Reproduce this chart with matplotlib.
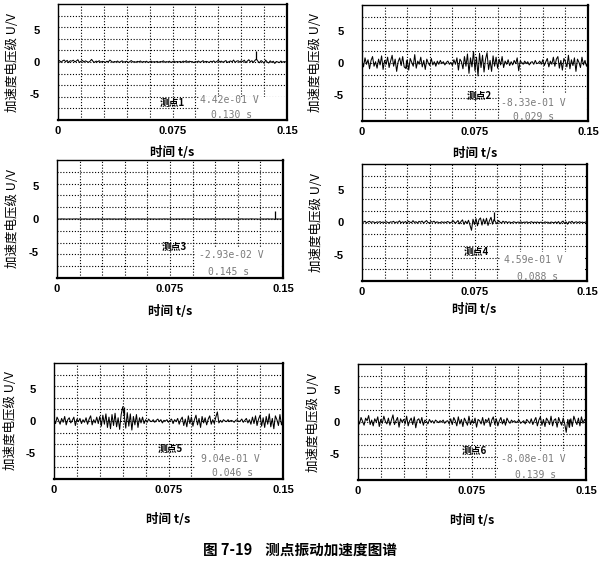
import numpy as np
import matplotlib
matplotlib.use("Agg")
import matplotlib.pyplot as plt
from matplotlib.patches import Rectangle

plt.rcParams['font.family'] = ['Noto Sans CJK SC', 'DejaVu Sans']

# sampling: 0 .. 0.150 s at 1 ms
time_s = np.arange(151) / 1000.0

point1 = [0.10, 0.22, -0.05, 0.18, 0.30, 0.05, 0.25, -0.10, 0.20, 0.12,
          0.28, 0.02, 0.15, 0.35, -0.08, 0.10, 0.24, 0.00, 0.18, 0.06,
          -0.05, 0.12, 0.40, 0.08, -0.06, 0.14, 0.03, 0.20, -0.04, 0.10,
          0.05, -0.08, 0.12, 0.02, 0.30, 0.10, -0.05, 0.08, 0.00, 0.15,
          -0.06, 0.06, 0.18, -0.02, 0.04, 0.12, -0.10, 0.05, 0.22, 0.00,
          0.06, -0.04, 0.10, 0.02, 0.16, -0.05, 0.08, 0.00, 0.12, -0.08,
          0.04, 0.14, -0.02, 0.06, 0.00, 0.10, -0.06, 0.08, 0.02, 0.18,
          -0.04, 0.06, 0.00, 0.12, -0.08, 0.05, 0.15, -0.02, 0.08, 0.00,
          0.10, -0.06, 0.14, 0.02, 0.20, -0.04, 0.12, 0.05, 0.06, -0.10,
          0.08, 0.00, 0.15, -0.05, 0.06, 0.20, -0.02, 0.10, 0.04, -0.08,
          0.12, 0.02, 0.18, -0.06, 0.08, 0.25, 0.00, 0.14, -0.04, 0.10,
          0.22, -0.08, 0.06, 0.16, 0.02, 0.30, -0.05, 0.12, 0.20, -0.02,
          0.18, 0.06, 0.28, -0.10, 0.14, 0.35, 0.02, 0.20, -0.06, 0.25,
          0.442, 0.10, -0.12, 0.22, 0.05, -0.20, 0.30, 0.00, -0.15, 0.18,
          -0.05, 0.12, -0.22, 0.08, 0.00, -0.10, 0.15, -0.04, 0.06, 0.02,
          0.05]

point2 = [0.3, -0.6, 0.8, -0.2, 0.5, -0.9, 0.4, 1.0, -0.5, 0.2,
          -0.8, 0.6, -0.3, 1.1, -1.0, 0.4, -0.2, 0.9, -0.7, 0.3,
          1.2, -0.5, 0.6, -1.3, 0.2, 0.8, -0.4, 1.0, -0.6, -0.833,
          0.5, -1.1, 0.7, 0.1, -0.5, 1.3, -0.8, 0.3, -0.2, 0.9,
          -0.6, 0.4, -1.0, 0.6, 0.0, -0.4, 0.7, -0.3, 0.2, -0.5,
          0.3, -0.2, 0.4, -0.1, 0.2, -0.3, 0.1, 0.3, -0.2, 0.1,
          -0.4, 0.5, -0.2, 0.8, -1.1, 0.6, 0.2, -0.9, 1.0, -0.5,
          1.4, -1.6, 0.8, -0.6, 1.8, -1.2, 0.9, -2.0, 1.5, -0.7,
          1.2, -1.4, 0.6, 1.6, -1.0, 0.4, -1.3, 1.1, -0.5, 0.9,
          -0.8, 0.6, -0.3, 1.0, -0.7, 0.3, -0.2, 0.5, -0.4, 0.2,
          -0.3, 0.4, -0.1, 0.8, -1.2, 0.3, 0.1, -0.2, 0.3, -0.1,
          0.2, -0.3, 0.1, 0.2, -0.2, 0.4, -0.1, 0.0, 0.3, -0.2,
          0.5, -0.4, 0.2, 0.7, -0.6, 0.3, -0.2, 0.9, -0.5, 0.6,
          1.0, -0.8, 0.4, -1.1, 0.7, 0.2, -0.6, 1.2, -0.9, 0.5,
          -0.4, 0.8, -1.3, 0.6, 0.1, -0.7, 0.9, -0.3, 0.4, -0.5,
          0.2]

point3 = [0.01, 0.00, -0.01, 0.02, 0.00, 0.01, -0.02, 0.00, 0.01, 0.00,
          -0.01, 0.01, 0.00, 0.02, -0.01, 0.00, 0.01, -0.01, 0.00, 0.02,
          0.00, -0.02, 0.01, 0.00, 0.01, -0.01, 0.00, 0.02, 0.00, -0.01,
          0.01, 0.00, -0.01, 0.01, 0.00, 0.02, -0.01, 0.00, 0.01, 0.00,
          -0.02, 0.01, 0.00, 0.01, -0.01, 0.00, 0.02, 0.00, -0.01, 0.01,
          0.00, 0.01, -0.01, 0.00, 0.02, -0.01, 0.00, 0.01, 0.00, -0.01,
          0.01, 0.00, 0.02, -0.01, 0.00, 0.01, -0.02, 0.00, 0.01, 0.00,
          -0.01, 0.02, 0.00, 0.01, -0.01, 0.00, 0.01, 0.00, -0.02, 0.01,
          0.00, 0.01, -0.01, 0.00, 0.02, 0.00, -0.01, 0.01, 0.00, 0.01,
          -0.01, 0.00, 0.02, 0.00, -0.01, 0.01, 0.00, -0.02, 0.01, 0.00,
          0.01, -0.01, 0.00, 0.02, 0.00, -0.01, 0.01, 0.00, 0.01, -0.01,
          0.00, 0.02, -0.01, 0.00, 0.01, 0.00, -0.02, 0.01, 0.00, 0.01,
          -0.01, 0.00, 0.01, 0.02, -0.01, 0.00, 0.01, -0.01, 0.00, 0.02,
          0.00, -0.01, 0.01, 0.00, -0.02, 0.01, 0.00, 0.01, -0.01, 0.00,
          0.02, -0.01, 0.00, 0.01, -0.02, -0.0293, 0.01, 0.00, -0.01, 0.01,
          0.00]

point4 = [0.15, 0.05, 0.20, -0.05, 0.10, 0.18, 0.00, 0.12, 0.06, -0.04,
          0.10, 0.02, 0.14, -0.02, 0.08, 0.00, 0.12, 0.04, -0.06, 0.10,
          0.05, 0.18, -0.04, 0.08, 0.02, 0.25, -0.05, 0.10, 0.00, 0.15,
          -0.08, 0.20, 0.05, -0.02, 0.28, 0.00, 0.12, -0.10, 0.18, 0.04,
          0.22, -0.06, 0.10, 0.30, 0.00, -0.08, 0.15, 0.05, 0.20, -0.04,
          0.10, 0.02, -0.06, 0.12, 0.00, 0.08, -0.02, 0.16, 0.04, -0.05,
          0.10, 0.25, -0.10, 0.05, 0.30, -0.20, 0.15, 0.40, -0.30, 0.20,
          -0.15, 0.35, -0.40, -1.20, 0.50, -0.30, 0.60, -0.50, 0.45, 0.70,
          -0.40, 0.55, -0.20, 0.65, -0.45, 0.30, 0.80, -0.25, 0.459, 0.10,
          -0.20, 0.30, 0.05, -0.10, 0.20, 0.00, 0.15, -0.05, 0.10, 0.02,
          -0.06, 0.12, 0.04, -0.02, 0.08, 0.00, 0.10, -0.04, 0.06, 0.02,
          0.10, -0.05, 0.04, 0.12, -0.02, 0.06, 0.00, 0.08, -0.04, 0.05,
          0.02, -0.08, 0.10, 0.00, 0.06, -0.12, 0.08, 0.02, -0.05, 0.10,
          -0.10, 0.15, -0.20, 0.05, 0.22, -0.15, 0.10, -0.25, 0.12, 0.00,
          0.18, -0.08, 0.05, 0.10, -0.04, 0.12, 0.00, 0.06, -0.02, 0.08,
          0.04]

point5 = [0.3, -0.4, 0.6, 0.1, -0.5, 0.4, -0.2, 0.7, -0.6, 0.2,
          0.5, -0.3, 0.1, 0.6, -0.7, 0.3, -0.1, 0.4, -0.4, 0.2,
          -0.2, 0.5, -0.5, 0.3, 0.8, -0.6, 0.2, -0.3, 0.6, -0.4,
          0.7, -0.8, 0.9, -0.5, 1.1, -1.0, 0.6, -1.2, 1.0, -0.7,
          1.2, -0.9, 0.5, -1.3, 1.0, 2.2, 0.904, -1.1, 1.3, -0.8,
          1.1, -1.4, 0.7, -0.6, 1.0, -1.0, 0.5, -0.3, 0.6, -0.4,
          0.2, -0.2, 0.3, 0.0, -0.1, 0.2, -0.2, 0.1, 0.3, -0.1,
          0.2, -0.3, 0.1, 0.0, 0.2, -0.2, 0.1, 0.3, -0.4, 0.2,
          -0.1, 0.4, -0.5, 0.2, 0.6, -0.7, 0.3, -0.9, 0.8, -0.4,
          0.6, -0.8, 0.2, 0.9, -0.6, 0.4, -1.0, 0.7, -0.3, 0.5,
          -0.6, 0.3, 0.8, -0.5, 0.2, -0.4, 0.6, 1.4, -0.3, 0.1,
          -0.2, 0.2, 0.0, -0.1, 0.2, -0.1, 0.1, 0.0, -0.2, 0.1,
          0.2, -0.1, 0.0, 0.3, -0.2, 0.1, 0.4, -0.3, 0.2, -0.5,
          0.6, -0.4, 0.8, -0.7, 0.3, 0.9, -0.8, 0.5, -1.0, 0.7,
          -0.5, 1.1, -0.9, 0.4, -1.2, 0.8, 0.2, -0.7, 1.0, -0.6,
          0.3]

point6 = [0.4, -0.3, 0.7, 0.1, -0.5, 0.6, 0.2, 1.0, -0.4, 0.3,
          -0.6, 0.5, 0.0, 0.8, -0.7, 0.4, -0.2, 0.9, 0.1, -0.3,
          0.6, -0.5, 0.3, 1.1, -0.4, 0.2, 0.7, -0.8, 0.5, 0.0,
          0.4, -0.3, 0.9, -0.6, 0.2, 0.6, -0.4, 0.8, -0.9, 0.3,
          0.5, -0.2, 0.7, -0.5, 0.3, 0.1, -0.3, 0.4, 0.0, 0.2,
          -0.2, 0.3, 0.1, -0.1, 0.2, 0.0, 0.3, -0.2, 0.1, 0.2,
          -0.3, 0.5, -0.4, 0.7, 0.2, -0.6, 0.8, -0.3, 0.4, -0.7,
          0.6, 0.1, -0.5, 0.9, -0.4, 0.3, -0.2, 0.6, -0.8, 0.4,
          0.2, -0.3, 0.7, -0.5, 0.4, 0.0, 0.6, -0.7, 0.3, 0.8,
          -0.4, 0.5, -0.6, 0.2, 0.7, -0.3, 0.4, -0.5, 0.6, 0.1,
          -0.2, 0.3, 0.0, 0.2, -0.1, 0.1, 0.3, -0.2, 0.0, 0.2,
          -0.3, 0.4, 0.1, -0.2, 0.5, -0.4, 0.2, 0.7, -0.6, 0.3,
          0.8, -0.5, 0.4, -0.7, 0.6, 0.2, -0.4, 0.9, -0.6, 0.3,
          0.5, -0.8, 0.7, 0.0, -0.5, 0.6, -0.3, -1.6, 0.4, -0.808,
          0.5, -0.7, 0.9, 0.2, -0.4, 0.6, -0.6, 0.8, -0.2, 0.4,
          0.1]

traces = [point1, point2, point3, point4, point5, point6]
station_names = ['测点1', '测点2', '测点3', '测点4', '测点5', '测点6']
cursor_times = [0.130, 0.029, 0.145, 0.088, 0.046, 0.139]
cursor_values = [4.42e-01, -8.33e-01, -2.93e-02, 4.59e-01, 9.04e-01, -8.08e-01]

x_ticks = [0, 0.075, 0.15]
x_tick_labels = ['0', '0.075', '0.15']
y_ticks = [5, 0, -5]
y_tick_labels = ['5', '0', '-5']
y_label = '加速度电压级 U/V'
x_label = '时间 t/s'
caption = '图 7-19    测点振动加速度图谱'

W, H = 600, 571
fig = plt.figure(figsize=(W / 100, H / 100), dpi=100)
fig.patch.set_facecolor('white')

# panel frames in pixels: left, top, right, bottom
panel_px = [(58, 4, 287, 120), (362, 5, 588, 121),
            (57, 160, 283, 278), (362, 164, 587, 281),
            (54, 363, 283, 479), (358, 364, 586, 480)]
ylabel_x = [-0.17, -0.175, -0.17, -0.175, -0.16, -0.165]
xlabel_y = [-0.22, -0.22, -0.23, -0.19, -0.29, -0.29]
# text anchors in axes fraction: name, value, time
name_pos = [(0.50, 0.15), (0.52, 0.22), (0.52, 0.26), (0.51, 0.25), (0.51, 0.26), (0.51, 0.25)]
value_pos = [(0.75, 0.17), (0.76, 0.155), (0.77, 0.195), (0.76, 0.18), (0.77, 0.17), (0.77, 0.18)]
time_pos = [(0.76, 0.04), (0.76, 0.035), (0.76, 0.05), (0.78, 0.035), (0.78, 0.05), (0.78, 0.04)]
box_h = [0.19, 0.23, 0.25, 0.24, 0.24, 0.24]

tick_font = dict(family=['Liberation Sans', 'DejaVu Sans'], size=8, weight='bold')

for i, (x0, y0, x1, y1) in enumerate(panel_px):
    ax = fig.add_axes([x0 / W, 1 - y1 / H, (x1 - x0) / W, (y1 - y0) / H])
    ax.set_xlim(0, 0.15)
    ax.set_ylim(-9, 9)

    # 10 x 10 dotted division grid
    for gx in np.linspace(0, 0.15, 11)[1:-1]:
        ax.axvline(gx, color='k', lw=0.8, ls=(0, (1, 1.6)), zorder=1)
    for gy in np.linspace(-9, 9, 11)[1:-1]:
        ax.axhline(gy, color='k', lw=0.8, ls=(0, (1, 1.6)), zorder=1)

    ax.add_patch(Rectangle((0.615, 0.008), 0.378, box_h[i], transform=ax.transAxes,
                           facecolor='white', edgecolor='none', zorder=2))

    ax.plot(time_s, traces[i], color='k', lw=0.75, zorder=3)
    ax.plot([cursor_times[i]], [cursor_values[i]], marker=2, ms=6, mew=0.9,
            color='k', zorder=4)

    ax.set_xticks(x_ticks)
    ax.set_xticklabels(x_tick_labels, fontdict=tick_font)
    ax.set_yticks(y_ticks)
    ax.set_yticklabels(y_tick_labels, fontdict=tick_font)
    ax.tick_params(which='both', length=0)
    ax.tick_params(axis='x', pad=4)
    ax.tick_params(axis='y', pad=13)

    for side, sp in ax.spines.items():
        sp.set_color('k')
        sp.set_linewidth(1.6 if side in ('right', 'bottom') else 1.0)

    ax.set_ylabel(y_label, fontsize=9)
    ax.yaxis.set_label_coords(ylabel_x[i], 0.5)
    ax.set_xlabel(x_label, fontsize=9, fontweight='bold')
    ax.xaxis.set_label_coords(0.5, xlabel_y[i])

    ax.text(*name_pos[i], station_names[i], transform=ax.transAxes, fontsize=7,
            fontweight='bold', ha='center', va='center', zorder=5)
    ax.text(*value_pos[i], f'{cursor_values[i]:.2e} V', transform=ax.transAxes,
            fontsize=7, family='DejaVu Sans Mono', color='#7a7a7a',
            ha='center', va='center', zorder=5)
    ax.text(*time_pos[i], f'{cursor_times[i]:.3f} s', transform=ax.transAxes,
            fontsize=7, family='DejaVu Sans Mono', color='#7a7a7a',
            ha='center', va='center', zorder=5)

fig.text(0.5, 1 - 550 / H, caption, ha='center', va='center',
         fontsize=10.5, fontweight='bold')

fig.savefig('out.png', dpi=100, facecolor='white')
